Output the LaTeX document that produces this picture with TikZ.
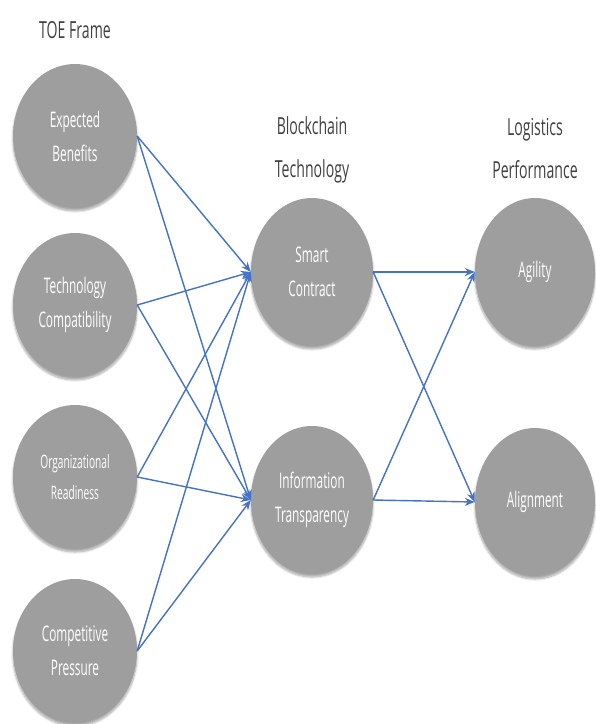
\documentclass[tikz,border=0pt]{standalone}
\usepackage{fontspec}
\setmainfont{Open Sans}
\newfontfamily\cfont[FakeStretch=0.55]{Open Sans}
\newfontfamily\tfont[FakeStretch=0.6]{Open Sans}
\usetikzlibrary{arrows.meta,shadows.blur,shapes.geometric}
\definecolor{circgray}{RGB}{158,158,158}
\definecolor{arrowblue}{RGB}{68,114,196}
\definecolor{titlegray}{RGB}{64,64,64}
\begin{document}
\begin{tikzpicture}[x=1pt,y=-1pt,
  factor/.style={ellipse, minimum width=124pt, minimum height=144pt, inner sep=0pt,
    fill=circgray, draw=none, text=white, align=center,
    font=\cfont\fontsize{21.5}{34}\selectfont,
    blur shadow={shadow xshift=0pt, shadow yshift=-3pt, shadow blur steps=8, shadow opacity=35}},
  title/.style={text=titlegray, align=center, font=\tfont\fontsize{23.5}{43}\selectfont},
  link/.style={draw=arrowblue, line width=1.4pt, -{Stealth[length=10pt,width=8pt]}}]
\useasboundingbox (0,0) rectangle (596,724);
% titles
\node[title] (t1) at (75,30) {TOE Frame};
\node[title] (t2) at (312,150) {Blockchain\\Technology};
\node[title] (t3) at (535,148) {Logistics\\Performance};
% nodes
\node[factor] (eb) at (75,136) {Expected\\Benefits};
\node[factor] (tc) at (75,305) {Technology\\Compatibility};
\node[factor, font=\cfont\fontsize{18.5}{31}\selectfont] (or) at (75,477) {Organizational\\Readiness};
\node[factor] (cp) at (75,651) {Competitive\\Pressure};
\node[factor, minimum width=122pt, minimum height=148pt] (sc) at (312,272) {Smart\\Contract};
\node[factor, minimum width=122pt, minimum height=148pt] (it) at (312,500) {Information\\Transparency};
\node[factor, minimum width=120pt, minimum height=148pt] (ag) at (535,272) {Agility};
\node[factor, minimum width=120pt, minimum height=148pt] (al) at (535,502) {Alignment};
% connectors
\foreach \s in {eb,tc,or,cp}{
  \draw[link] (\s.east) -- (sc.west);
  \draw[link] (\s.east) -- (it.west);
}
\foreach \s in {sc,it}{
  \draw[link] (\s.east) -- (ag.west);
  \draw[link] (\s.east) -- (al.west);
}
\end{tikzpicture}
\end{document}
